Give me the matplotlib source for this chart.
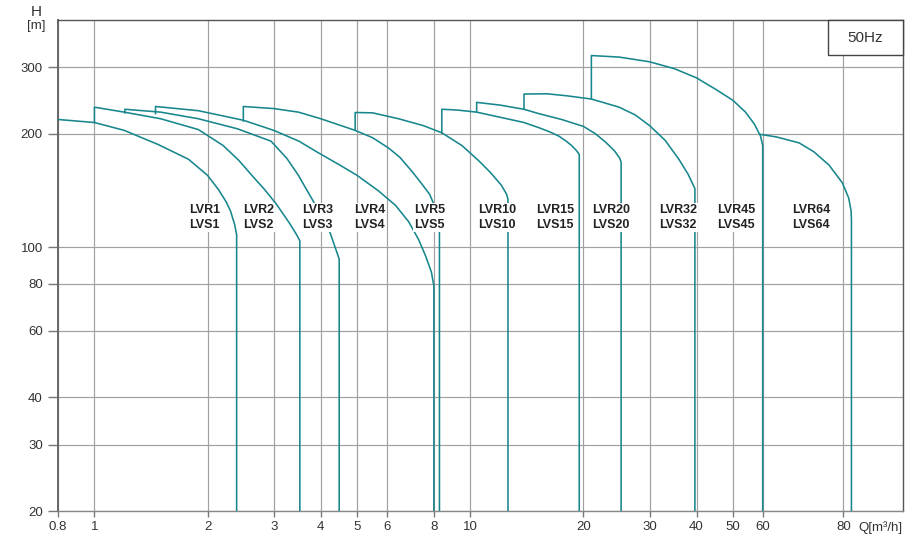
import matplotlib

matplotlib.use("Agg")
import matplotlib.pyplot as plt  # noqa: E402
import numpy as np  # noqa: E402
from matplotlib.patches import Rectangle  # noqa: E402
from matplotlib.ticker import NullLocator  # noqa: E402

plt.rcParams["font.family"] = ["Liberation Sans", "DejaVu Sans"]

# pump family envelopes, Q [m3/h] vs H [m]
LVR1_Q = [0.8, 1.0, 1.2, 1.48, 1.78, 2.0, 2.14, 2.24, 2.3, 2.36, 2.39, 2.39]
LVR1_H = [218, 214, 204, 187, 171, 155, 142, 132, 125, 115, 108, 20]
LVR2_Q = [1.0, 1.0, 1.2, 1.5, 1.89, 2.2, 2.42, 2.67, 2.84, 3.05, 3.3, 3.45, 3.52, 3.52]
LVR2_H = [214, 235, 228, 219, 205, 186, 170, 152, 142, 130, 116, 108, 104, 20]
LVR3_Q = [1.205, 1.205, 1.5, 1.89, 2.4, 2.95, 3.25, 3.49, 3.64, 3.78, 4.0, 4.24, 4.4, 4.48, 4.48]
LVR3_H = [227, 232, 228, 219, 206, 191, 172, 155, 144, 135, 122, 109, 98, 93, 20]
LVR4_Q = [1.454, 1.454, 1.89, 2.49, 3.0, 3.5, 3.94, 4.5, 5.0, 5.7, 6.33, 6.85, 7.28, 7.6, 7.88, 8.0, 8.0]
LVR4_H = [226, 236, 230, 217, 204, 191, 178, 165, 155, 141, 129, 117, 105, 95, 86, 79, 20]
LVR5_Q = [2.49, 2.49, 3.0, 3.49, 4.0, 4.94, 5.5, 6.07, 6.5, 6.99, 7.4, 7.8, 8.05, 8.2, 8.28, 8.28]
LVR5_H = [216, 236, 233, 228, 219, 204, 195, 183, 173, 159, 148, 138, 128, 118, 109, 20]
LVR10_Q = [4.94, 4.94, 5.5, 6.44, 7.5, 8.4, 9.5, 10.5, 11.3, 12.1, 12.5, 12.6, 12.6]
LVR10_H = [204, 227.5, 227, 219, 210, 201, 186, 170, 158, 146, 138, 134, 20]
LVR15_Q = [8.4, 8.4, 9.2, 10.4, 12.0, 13.9, 15.2, 16.3, 17.2, 18.0, 18.6, 19.2, 19.5, 19.5]
LVR15_H = [201, 232, 231, 228, 221, 214, 207.5, 202, 197, 191, 186, 180, 176, 20]
LVR20_Q = [10.4, 10.4, 12.0, 13.9, 15.2, 17.5, 20.0, 21.5, 22.9, 24.2, 25.0, 25.2, 25.2]
LVR20_H = [228, 242, 238, 232, 226, 218, 209, 200, 190, 180, 172, 168, 20]
LVR32_Q = [13.9, 13.9, 16.0, 18.0, 21.0, 24.9, 27.5, 30.0, 33.0, 35.9, 38.0, 39.6, 39.6]
LVR32_H = [232, 254.6, 255, 252, 247, 235, 224, 210, 192, 171, 156, 143, 20]
LVR45_Q = [21.0, 21.0, 24.9, 30, 35, 40, 45, 50, 54, 57, 59.2, 60, 60]
LVR45_H = [247, 322, 319, 310, 297, 281, 262, 245, 228, 212, 197, 186, 20]
LVR64_Q = [59.2, 63, 68.3, 72, 76, 79.7, 81.5, 82.2, 82.3, 82.3]
LVR64_H = [199, 196, 189, 179, 165, 148, 135, 125, 118, 20]

MODELS = ["1", "2", "3", "4", "5", "10", "15", "20", "32", "45", "64"]
X_TICKS = [0.8, 1, 2, 3, 4, 5, 6, 8, 10, 20, 30, 40, 50, 60, 80]
Y_TICKS = [20, 30, 40, 60, 80, 100, 200, 300]

CURVES = [
    (LVR1_Q, LVR1_H), (LVR2_Q, LVR2_H), (LVR3_Q, LVR3_H), (LVR4_Q, LVR4_H),
    (LVR5_Q, LVR5_H), (LVR10_Q, LVR10_H), (LVR15_Q, LVR15_H), (LVR20_Q, LVR20_H),
    (LVR32_Q, LVR32_H), (LVR45_Q, LVR45_H), (LVR64_Q, LVR64_H),
]

# the printed chart stretches the log axis beyond 60 m3/h
L60 = np.log10(60)
STRETCH = 1.72


def fwd(q):
    lq = np.log10(np.maximum(np.asarray(q, dtype=float), 1e-9))
    return np.where(lq <= L60, lq, L60 + (lq - L60) * STRETCH)


def inv(p):
    p = np.asarray(p, dtype=float)
    return np.where(p <= L60, 10.0 ** p, 10.0 ** (L60 + (p - L60) / STRETCH))


fig = plt.figure(figsize=(9.2, 5.37), dpi=100)
ax = fig.add_axes([58 / 920, 26 / 537, 845.3 / 920, 491 / 537])
ax.set_xscale("function", functions=(fwd, inv))
ax.set_yscale("log")
ax.set_xlim(0.8, 99)
ax.set_ylim(20, 400)

teal = "#17878d"
for q, h in CURVES:
    ax.plot(q, h, color=teal, lw=1.15, zorder=3, solid_joinstyle="round")

# family labels sit in a band around H = 120 m
label_q = [1.96, 2.73, 3.92, 5.39, 7.79, 11.8, 16.8, 23.7, 35.7, 50.9, 71.3]
for name, xq in zip(MODELS, label_q):
    ax.text(xq, 120, f"LVR{name}\nLVS{name}", ha="center", va="center",
            fontsize=9, fontweight="bold", color="#222222", linespacing=1.3,
            zorder=4, bbox=dict(facecolor="white", edgecolor="none", pad=0.6))

ax.set_xticks(X_TICKS, labels=[f"{v:g}" for v in X_TICKS])
ax.set_yticks(Y_TICKS, labels=[str(v) for v in Y_TICKS])
ax.xaxis.set_minor_locator(NullLocator())
ax.yaxis.set_minor_locator(NullLocator())
ax.set_axisbelow(True)
ax.grid(True, color="#a0a0a0", lw=0.85)

ax.tick_params(axis="y", direction="out", length=7, width=1, color="#777777",
               pad=4, labelsize=9.5, labelcolor="#333333")
ax.tick_params(axis="x", direction="out", length=4.5, width=1, color="#777777",
               pad=3, labelsize=9.5, labelcolor="#333333")

ax.spines["left"].set_color("#666666")
ax.spines["left"].set_linewidth(1.4)
for side in ("top", "right"):
    ax.spines[side].set_color("#555555")
    ax.spines[side].set_linewidth(1.0)
ax.spines["bottom"].set_color("#888888")
ax.spines["bottom"].set_linewidth(1.0)

ax.add_patch(Rectangle((0.9106, 0.9281), 0.0894, 0.0719, transform=ax.transAxes,
                       facecolor="white", edgecolor="#444444", lw=1.0, zorder=5,
                       clip_on=False))
ax.text(0.955, 0.964, "50Hz", transform=ax.transAxes, ha="center", va="center",
        fontsize=11, color="#333333", zorder=6)

fig.text(36.7 / 920, 1 - 12.5 / 537, "H", ha="center", va="center", fontsize=11, color="#333333")
fig.text(36.7 / 920, 1 - 25.5 / 537, "[m]", ha="center", va="center", fontsize=9.5, color="#333333")
fig.text(903 / 920, 1 - 527.5 / 537, "Q[m³/h]", ha="right", va="center", fontsize=9.5, color="#333333")

fig.savefig("out.png", dpi=100)
